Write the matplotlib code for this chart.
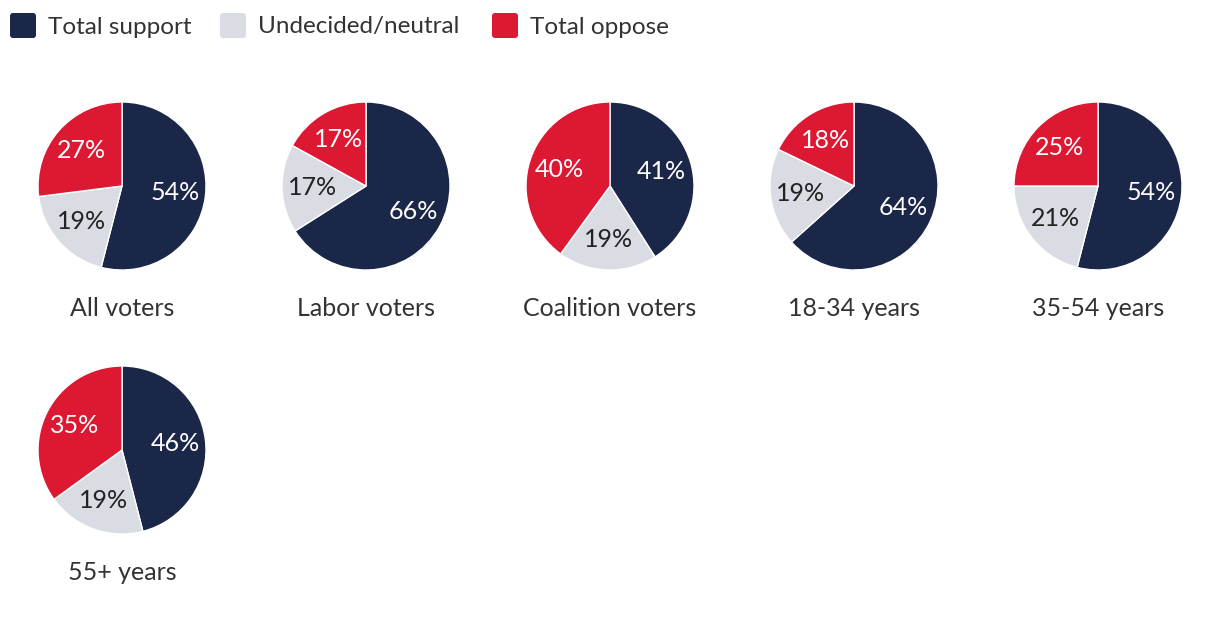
import math
import matplotlib
matplotlib.use('agg')
import matplotlib.pyplot as plt
from matplotlib.patches import FancyBboxPatch

plt.rcParams['font.family'] = ['Lato', 'DejaVu Sans']

# survey results, percent
groups = ['All voters', 'Labor voters', 'Coalition voters', '18-34 years', '35-54 years', '55+ years']
support = [54, 66, 41, 64, 54, 46]
undecided = [19, 17, 19, 19, 21, 19]
oppose = [27, 17, 40, 18, 25, 35]
series = ['Total support', 'Undecided/neutral', 'Total oppose']

colors = ['#1b2748', '#d9dce3', '#dc1832']
txt_colors = ['white', '#222222', 'white']

W, H = 1220, 620
fig = plt.figure(figsize=(W / 100, H / 100), dpi=100)

# legend drawn in a pixel-space axes along the top
leg = fig.add_axes([0, 1 - 52 / H, 1, 52 / H])
leg.set_xlim(0, W)
leg.set_ylim(52, 0)
leg.axis('off')
leg_x = [10, 220, 492]
for x, name, c in zip(leg_x, series, colors):
    leg.add_patch(FancyBboxPatch((x, 13), 26, 25, boxstyle='round,pad=0,rounding_size=3',
                                 facecolor=c, edgecolor='none'))
    leg.text(x + 38, 27, name, fontsize=17.5, color='#333333', va='center', ha='left')

# pie grid
centers_x = [122, 366, 610, 854, 1098]
centers_y = [186, 450]
r = 84

for i, g in enumerate(groups):
    cx = centers_x[i % 5]
    cy = centers_y[i // 5]
    ax = fig.add_axes([(cx - r) / W, 1 - (cy + r) / H, 2 * r / W, 2 * r / H])
    vals = [support[i], undecided[i], oppose[i]]
    ax.pie(vals, colors=colors, startangle=90, counterclock=False,
           radius=1, wedgeprops=dict(edgecolor='white', linewidth=1))
    # percentage labels at slice midpoints
    total = sum(vals)
    start = 90
    for v, tc in zip(vals, txt_colors):
        mid = start - v / total * 360 / 2
        start -= v / total * 360
        ax.text(0.64 * math.cos(math.radians(mid)), 0.64 * math.sin(math.radians(mid)),
                f'{v}%', ha='center', va='center', fontsize=18, color=tc)
    ax.set_xlim(-1, 1)
    ax.set_ylim(-1, 1)
    ax.set_aspect('equal')
    fig.text(cx / W, 1 - (cy + 122) / H, g, ha='center', va='center', fontsize=18, color='#333333')

plt.savefig('out.png', dpi=100)
